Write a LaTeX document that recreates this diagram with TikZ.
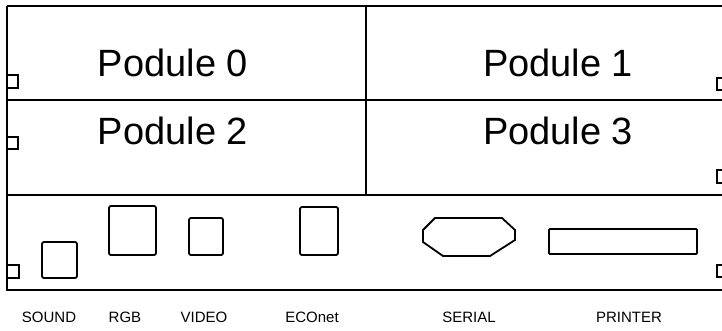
\documentclass[tikz,border=0pt]{standalone}
\usepackage{fontspec}
\setmainfont{Liberation Sans}
\begin{document}
\begin{tikzpicture}[x=1pt,y=-1pt,line width=1.9pt,
  port/.style={draw, rounded corners=2pt, inner sep=0pt, line width=1.8pt},
  lbl/.style={font=\fontsize{15}{17}\selectfont, inner sep=0pt},
  pod/.style={font=\fontsize{38}{40}\selectfont, inner sep=0pt},
  tab/.style={line width=1.4pt}]
\useasboundingbox (0,0) rectangle (722,330);
% frame
\coordinate (tl) at (7,6);
\coordinate (tr) at (722,6);
\coordinate (bl) at (7,290);
\coordinate (br) at (722,290);
\coordinate (ml) at (7,100);
\coordinate (mr) at (722,100);
\coordinate (sl) at (7,195);
\coordinate (sr) at (722,195);
\coordinate (dt) at (366,6);
\coordinate (db) at (366,195);
\draw (tl) -- (tr);
\draw (tl) -- (bl) -- (br);
\draw (ml) -- (mr);
\draw (sl) -- (sr);
\draw (dt) -- (db);
% tabs
\draw[tab] (7,75) -- (18,75) -- (18,88) -- (7,88);
\draw[tab] (7,137) -- (18,137) -- (18,149) -- (7,149);
\draw[tab] (7,265) -- (19,265) -- (19,278) -- (7,278);
\draw[tab] (723,78) -- (717,78) -- (717,90) -- (723,90);
\draw[tab] (723,170) -- (717,170) -- (717,183) -- (723,183);
\draw[tab] (723,265) -- (717,265) -- (717,277) -- (723,277);
% podule labels
\node[pod] (p0) at (173,63) {Podule 0};
\node[pod] (p1) at (558,63) {Podule 1};
\node[pod] (p2) at (173,131) {Podule 2};
\node[pod] (p3) at (558,131) {Podule 3};
% ports
\node[port, minimum width=35pt, minimum height=36pt] (sound) at (59.5,260) {};
\node[port, minimum width=47pt, minimum height=49pt] (rgb) at (132.5,230.5) {};
\node[port, minimum width=34pt, minimum height=37pt] (video) at (206,236.5) {};
\node[port, minimum width=38pt, minimum height=48pt] (econet) at (319,231) {};
\draw[line width=1.8pt] (435,218) -- (502,218) -- (515,230) -- (515,240) -- (490,256) -- (443,256) -- (423,242) -- (423,230) -- cycle;
\node[port, rounded corners=1pt, minimum width=148pt, minimum height=25pt] (printer) at (623,241.5) {};
% labels
\node[lbl] (lsound) at (49,317) {SOUND};
\node[lbl] (lrgb) at (125,317) {RGB};
\node[lbl] (lvideo) at (204,317) {VIDEO};
\node[lbl] (lecon) at (312,317) {ECOnet};
\node[lbl] (lserial) at (469,317) {SERIAL};
\node[lbl] (lprinter) at (629,317) {PRINTER};
\end{tikzpicture}
\end{document}
